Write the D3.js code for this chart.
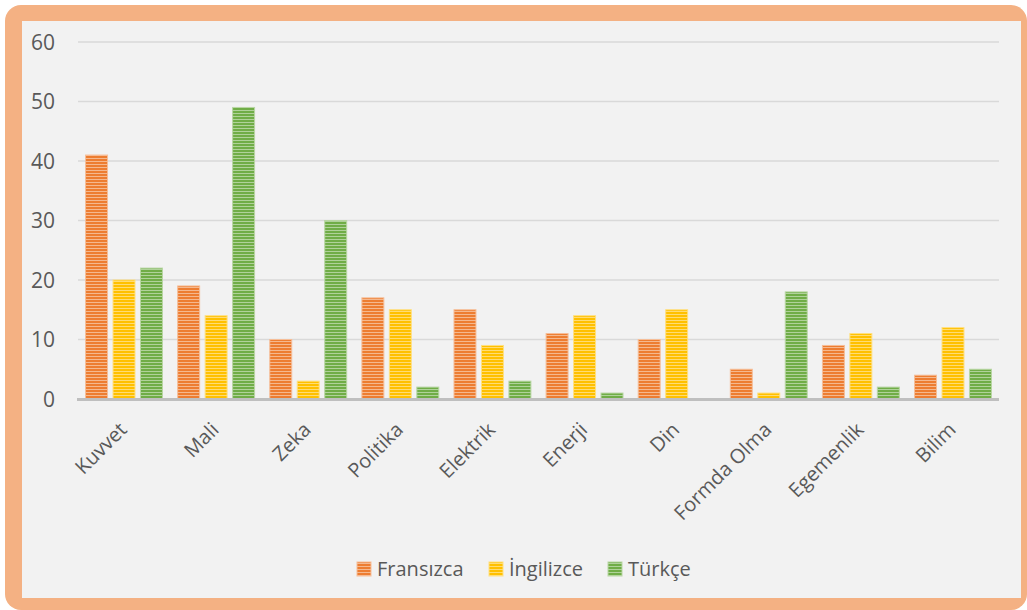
<!DOCTYPE html>
<html>
<head>
<meta charset="utf-8">
<script src="https://cdn.jsdelivr.net/npm/d3@7/dist/d3.min.js"></script>
<style>
  body { margin: 0; background: #fff; }
  svg text { font-family: "Open Sans", sans-serif; fill: #595959; }
</style>
</head>
<body>
<div id="chart"></div>
<script>
const categories = ["Kuvvet","Mali","Zeka","Politika","Elektrik","Enerji","Din","Formda Olma","Egemenlik","Bilim"];
const seriesNames = ["Fransızca","İngilizce","Türkçe"];
const fransizca = [41,19,10,17,15,11,10,5,9,4];
const ingilizce = [20,14,3,15,9,14,15,1,11,12];
const turkce    = [22,49,30,2,3,1,0,18,2,5];
const yTicks = [0,10,20,30,40,50,60];

const colors = ["#ED7D31","#FFC000","#70AD47"];
const values = [fransizca, ingilizce, turkce];

const W = 1027, H = 610;
const svg = d3.select("#chart").append("svg").attr("width", W).attr("height", H);

// frame
svg.append("rect").attr("x",5).attr("y",5).attr("width",W-5).attr("height",H-5)
  .attr("rx",16).attr("fill","#F4B183");
svg.append("rect").attr("x",22).attr("y",21).attr("width",999).attr("height",577)
  .attr("fill","#F2F2F2");

// stripe patterns
const defs = svg.append("defs");
colors.forEach((c,i)=>{
  const p = defs.append("pattern").attr("id","pat"+i)
    .attr("patternUnits","userSpaceOnUse").attr("width",4).attr("height",3);
  p.append("rect").attr("width",4).attr("height",3).attr("fill",d3.interpolateRgb(c,"#fff")(0.45));
  p.append("rect").attr("width",4).attr("height",2).attr("fill",c);
});

const margin = {left:78, right:28, top:42, bottom:211};
const x0 = d3.scaleBand().domain(categories).range([margin.left, 999]).paddingInner(0.165).paddingOuter(0.082);
const x1 = d3.scaleBand().domain(seriesNames).range([0, x0.bandwidth()]).paddingInner(0.2);
const y = d3.scaleLinear().domain([0,60]).range([399, 42]);

// gridlines
svg.append("g").selectAll("line").data(yTicks.filter(d=>d>0)).join("line")
  .attr("x1",margin.left).attr("x2",999)
  .attr("y1",d=>y(d)).attr("y2",d=>y(d))
  .attr("stroke","#D9D9D9").attr("stroke-width",1.5);

// y labels
svg.append("g").selectAll("text").data(yTicks).join("text")
  .attr("x",55).attr("y",d=>y(d)).attr("dy","0.36em")
  .attr("text-anchor","end").attr("font-size",21).text(d=>d);

// bars
const groups = svg.append("g").selectAll("g").data(categories).join("g")
  .attr("transform",d=>`translate(${x0(d)},0)`);
groups.selectAll("rect").data((d,ci)=>seriesNames.map((s,si)=>({s,si,v:values[si][ci]})))
  .join("rect")
  .attr("x",d=>x1(d.s)).attr("width",x1.bandwidth())
  .attr("y",d=>y(d.v)).attr("height",d=>y(0)-y(d.v))
  .attr("fill",d=>`url(#pat${d.si})`)
  .attr("stroke",d=>d3.interpolateRgb(colors[d.si],"#fff")(0.5))
  .attr("stroke-width",d=>d.v>0?1:0);

// x axis line
svg.append("line").attr("x1",margin.left-1).attr("x2",999)
  .attr("y1",399.5).attr("y2",399.5).attr("stroke","#BFBFBF").attr("stroke-width",3);

// x labels
svg.append("g").selectAll("text").data(categories).join("text")
  .attr("transform",d=>`translate(${x0(d)+x0.bandwidth()/2+4},${431}) rotate(-45)`)
  .attr("text-anchor","end").attr("font-size",20).text(d=>d);

// legend
const legend = svg.append("g");
const legendX = [357, 489, 608];
seriesNames.forEach((s,i)=>{
  legend.append("rect").attr("x",legendX[i]).attr("y",562).attr("width",14).attr("height",14)
    .attr("fill",`url(#pat${i})`).attr("stroke",d3.interpolateRgb(colors[i],"#fff")(0.5));
  legend.append("text").attr("x",legendX[i]+20).attr("y",569).attr("dy","0.36em")
    .attr("font-size",20).text(s);
});
</script>
</body>
</html>
